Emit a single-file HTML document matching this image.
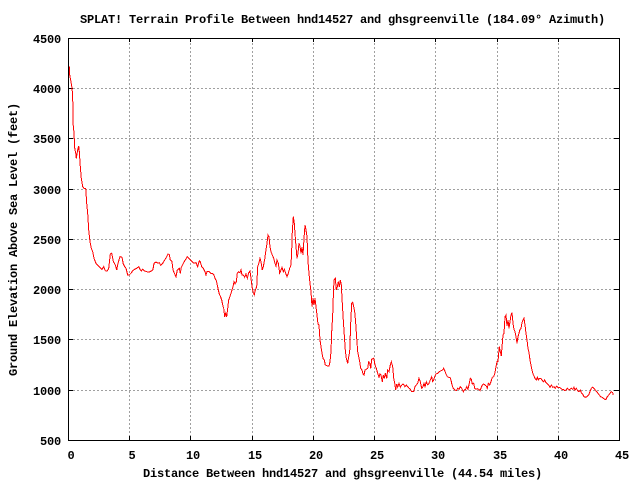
<!DOCTYPE html>
<html>
<head>
<meta charset="utf-8">
<style>
html,body{margin:0;padding:0;background:#fff;}
svg{display:block;}
text{font-family:"Liberation Mono","DejaVu Sans Mono",monospace;font-weight:bold;font-size:12px;letter-spacing:-0.2px;fill:#000;}
</style>
</head>
<body>
<svg width="640" height="480" viewBox="0 0 640 480" xmlns="http://www.w3.org/2000/svg">
<rect x="0" y="0" width="640" height="480" fill="#fff"/>
<!-- grid -->
<g stroke="#a0a0a0" stroke-width="1" stroke-dasharray="2,2" shape-rendering="crispEdges">
<line x1="73" y1="88.5" x2="615" y2="88.5"/>
<line x1="73" y1="138.5" x2="615" y2="138.5"/>
<line x1="73" y1="189.5" x2="615" y2="189.5"/>
<line x1="73" y1="239.5" x2="615" y2="239.5"/>
<line x1="73" y1="289.5" x2="615" y2="289.5"/>
<line x1="73" y1="339.5" x2="615" y2="339.5"/>
<line x1="73" y1="390.5" x2="615" y2="390.5"/>
<line x1="129.5" y1="43" x2="129.5" y2="436"/>
<line x1="190.5" y1="43" x2="190.5" y2="436"/>
<line x1="252.5" y1="43" x2="252.5" y2="436"/>
<line x1="313.5" y1="43" x2="313.5" y2="436"/>
<line x1="374.5" y1="43" x2="374.5" y2="436"/>
<line x1="435.5" y1="43" x2="435.5" y2="436"/>
<line x1="497.5" y1="43" x2="497.5" y2="436"/>
<line x1="558.5" y1="43" x2="558.5" y2="436"/>
</g>
<!-- ticks -->
<g stroke="#000" stroke-width="1" shape-rendering="crispEdges">
<path d="M68 38.5h5M68 88.5h5M68 138.5h5M68 189.5h5M68 239.5h5M68 289.5h5M68 339.5h5M68 390.5h5M68 440.5h5
M614 38.5h5M614 88.5h5M614 138.5h5M614 189.5h5M614 239.5h5M614 289.5h5M614 339.5h5M614 390.5h5M614 440.5h5
M129.5 440v-4M190.5 440v-4M252.5 440v-4M313.5 440v-4M374.5 440v-4M435.5 440v-4M497.5 440v-4M558.5 440v-4
M129.5 38v4M190.5 38v4M252.5 38v4M313.5 38v4M374.5 38v4M435.5 38v4M497.5 38v4M558.5 38v4"/>
</g>
<!-- profile -->
<polyline fill="none" stroke="#ff0000" stroke-width="1" stroke-linejoin="miter" shape-rendering="crispEdges" points="
69.3,66.7 69.3,73 70.7,80 72,88 72.7,96.7 73,123 74,133 74.7,148 76,155 76.3,158.3 77.7,150 78.7,146 79.3,151.7 80.3,166.7 81.3,178.3 82.7,186.7 84,188.3 85.7,188.3 86.7,203.3 87.7,213.3 88.7,230 90,241.7 91.3,248.3 92.7,251.7 94,258.3 96,263.3 98,265.7 100,267.3 102,269.3 103.7,266.7 105.3,270.7 107.3,271 108.7,268.3 110.3,254 111.7,253.3 113.3,261.3 115.3,265 116.7,270 118,263.3 120,256.7 122,257.3 123.3,264 124.7,266.7 126,268.3 127.7,275 129.3,275 131,273.3 132.7,270.7 134.7,269.3 136.7,268.3 138.7,266.7 140,269.3 141.3,271 142.7,269 144.7,271 146.7,271.7 149.3,272 151.3,271 153,269.3 154,263.3 156,262 158,263.3 159.3,262.7 160.7,265.3 162.7,263.3 164.7,260 166.7,256.7 168,254 169.3,254.7 170.3,260 172,261.7 173,270 174.7,274 176,276.7 177.3,270 179.3,268.3 180.3,273.3 181.3,267.3 183.3,263.3 185.3,260 187.3,256.7 190,259.3 192,261.7 194,263.3 196,262.7 197.7,266.7 199.3,260.7
200.3,261.7 201.7,266.7 203.3,268.3 205,271.7 206,275 207,271.7 209,271.7 210.7,273.3 212.3,273.3 214,275 215,278.3 216.3,280.7 217.3,285 218.3,290 219.3,294 220.3,296 221.7,300 222.7,305 223.7,308.3 224.7,316.7 225.7,313.3 226.7,316.7 227.7,308.3 228.7,300 229.7,297.3 231,293.3 232,290 233,286.7 234,281.7 235,284 236.3,281.7 237.3,273.3 238.7,271.7 240,272.7 241,270 242,275 243.3,275 244.7,277.3 246,274 247.3,278.3 248.7,272.7 250,271 251,278.3 252,286.7 253,291.7 254.3,295 255.3,290 256.7,286.7 257.7,266.7 259,262.7 260,258.3 261,261.7 262.3,270 263.3,266.7 264.7,259.3 265.7,251.7 267,243.3 268,235 269,236.7 270,246.7 271,251.7 272.3,255 273.7,258.3 275,263.3 276,266 277,260 278.3,263.3 279.7,273.3 281,270 282,267.3 283.3,271.7 284.3,269.3 285.7,273.3 287,276.7 288.3,273.3 289.7,268.3 291,265 291.7,250 292.3,231.7 293.3,216.7 294.3,223.3 295,233.3 296,246.7 297,258.3 298,253.3 299,243.3 300,246 301,253.3 302,247.3 303,255 304,238.3 305,225 306,230 307,236.7 308,261.7 309,273.3 310,283.3 311,291.7 312,306.7 313,298.3 314,305 315,298.3 316,306.7 317,315 318,324 319,325 320,340 321,346.7 322,353.3 323,358.3 324.3,360 325.3,365 327.7,366 329,366
330,361.7 331,351.7 331.7,331.7 332.7,315 333.3,296.7 334,280 335.3,278.3 336.3,290 337.3,286.7 338.3,281.7 339.3,286.7 340.3,280 341.3,285 342.3,303.3 343.3,320 344.3,335 345.3,350 346.3,358.3 347.7,363.3 348.7,356.7 349.7,351.7 350.7,323.3 351.7,303.3 352.7,302.3 353.7,306.7 354.7,311.7 355.7,323.3 356.7,338.3 357.7,351.7 358.7,356.7 359.7,361.7 360.7,368.3 362,370 363,374 364,375 365,370 366.3,369.3 367.7,368.3 368.7,361.7 369.7,363.3 370.7,368.3 371.7,359.3 373.7,358.3 375,365 376.3,368.3 377.7,373.3 379,377.3 380,374 381,375 382.3,381.7 383.3,375 384.3,378.3 385.3,373.3 386.7,378.3 387.7,370 389,371.7 390.3,365 391.3,361.7 392.7,366.7 393.7,378.3 394.7,383.3 395.7,390 396.7,384 397.7,387.3 399,383.3 400.3,387.3 401.7,385 403.3,384 405,386.7 406.3,385 407.7,386.7 409,388.3 410.3,389.3 411.7,391.7 413.7,391.7 415,386.7 416.3,385 417.7,383.3 419,378.3 420.3,381.7 421.7,388.3 423,386.7 424,383.3 425,386.7 426.3,381.7 427.7,385 429,383.3 430.3,380 431.7,376.7 432.7,381.7 433.7,380 434.7,376.7 436,374 437.7,373.3 439.3,371.7 441,370.7 442.7,370 443.7,368.3 444.7,370.7 446,374 447.3,376.7 448.7,377.3 450,377.3 451,380 452,385 453.3,388.3 455,390 456.3,390.7 457.7,388.3 459,389.3 460.3,386.7 461.7,388.3 463.3,391.7 464.3,390
465.7,389.3 466.7,386.7 468,389.3 469.3,383.3 470.3,378.3 471.3,379.3 472.3,384 473.7,383.3 474.7,388.3 476,389.3 477.3,388.7 478.7,389.3 480,390.7 481.3,387.3 482.3,385 483.7,384 485,385 486.3,386 487.3,388.3 488.3,383.3 489.7,385 491,381.7 492.3,377.3 493.7,376.7 495,372.7 496,366.7 497,361.7 498,361.7 498.7,353.3 499.3,346.7 500.3,351.7 501.3,356 502.3,343.3 503,335 504,333.3 505,316.7 506,315 507,326 508,320 509,328.3 510,321.7 511,315 512,312.7 513,323.3 514,329.3 515,331.7 516,336.7 517,343.3 518,336.7 519,333.3 520,329.3 521,328.3 522,322.7 523,320 524,318.3 525,325 526,333.3 527,340 528,348.3 529,352.7 530,360 531,365 532,370 533,374 534,376 535,378.3 536.3,380 537.3,377.3 538.3,380 539.3,378.3 540.7,378.3 542,380 543.3,381.7 544.7,380 546,382.7 547.3,384 548.7,385 550,387.3 551.3,385 552.7,387.3 554,386.7 555.3,388.3 556.7,386 558,387.3 559.3,387.3 560.7,388.3 562,389.3 563.3,389.3 564.7,390.7 566,390 567.3,388.3 568.7,390 570,389.3 571.3,388.3 572.7,389.3 574,387.3 575,390 576.3,388.3 577.7,390.7 579,391.7 580.3,390 581.3,392.7 582.7,394 584,396.7 585.3,397.3 587,396.7 588.7,395 590,391.7 591.3,388.3 592.7,387.3 594,388.3 595.3,390 596.7,391.7 598,393.3 599.3,395 600.7,396.7 602,397.3 603.3,398.3 604.7,399.3 606,399.3 607.3,396.7 608.7,395 610,393.3 611.3,391.7 612.7,392.7 613.3,395"/>
<!-- border -->
<rect x="68.5" y="38.5" width="551" height="402" fill="none" stroke="#000" stroke-width="1" shape-rendering="crispEdges"/>
<!-- title -->
<text x="342.5" y="23" text-anchor="middle">SPLAT! Terrain Profile Between hnd14527 and ghsgreenville (184.09° Azimuth)</text>
<!-- y tick labels -->
<g text-anchor="end">
<text x="61" y="43">4500</text>
<text x="61" y="93">4000</text>
<text x="61" y="143">3500</text>
<text x="61" y="194">3000</text>
<text x="61" y="244">2500</text>
<text x="61" y="294">2000</text>
<text x="61" y="344">1500</text>
<text x="61" y="395">1000</text>
<text x="61" y="445">500</text>
</g>
<!-- x tick labels -->
<g text-anchor="middle">
<text x="71" y="459">0</text>
<text x="132" y="459">5</text>
<text x="193" y="459">10</text>
<text x="255" y="459">15</text>
<text x="316" y="459">20</text>
<text x="377" y="459">25</text>
<text x="438" y="459">30</text>
<text x="500" y="459">35</text>
<text x="561" y="459">40</text>
<text x="622" y="459">45</text>
</g>
<!-- axis labels -->
<text x="342.5" y="477" text-anchor="middle">Distance Between hnd14527 and ghsgreenville (44.54 miles)</text>
<text transform="translate(17,239.5) rotate(-90)" x="0" y="0" text-anchor="middle">Ground Elevation Above Sea Level (feet)</text>
</svg>
</body>
</html>
